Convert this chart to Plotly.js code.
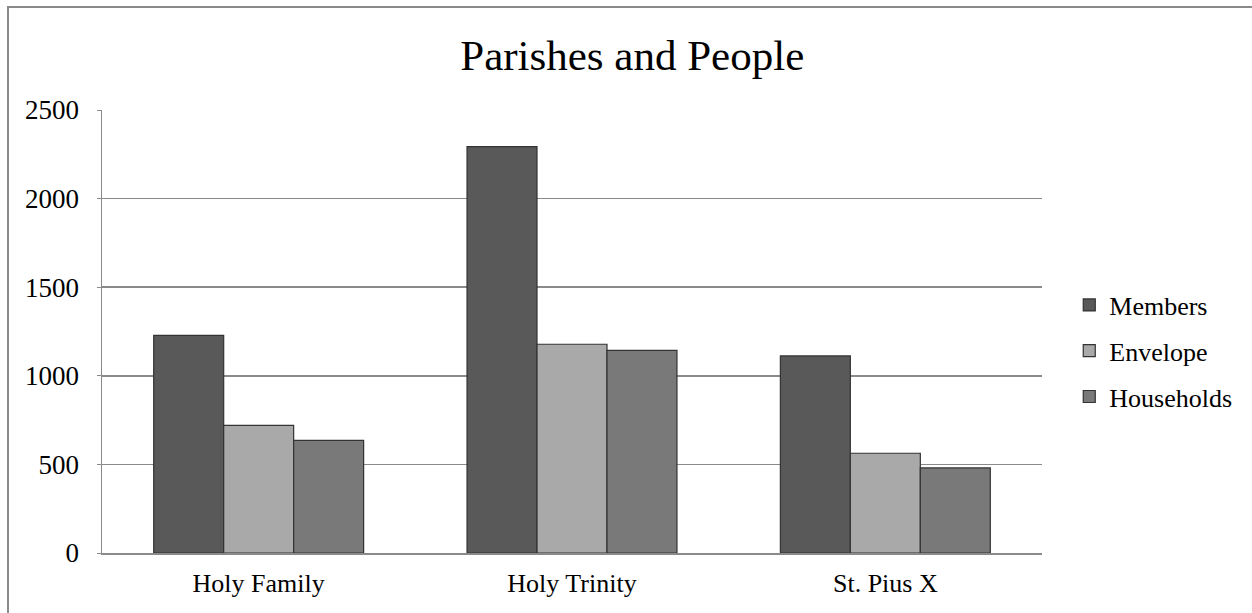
<!DOCTYPE html>
<html>
<head>
<meta charset="utf-8">
<script src="https://cdn.plot.ly/plotly-3.0.1.min.js"></script>
<style>
html,body{margin:0;padding:0;background:#fff;}
#chart{width:1252px;height:613px;}
</style>
</head>
<body>
<div id="chart"></div>
<script>
var categories = ["Holy Family", "Holy Trinity", "St. Pius X"];
var members = [1228, 2293, 1112];
var envelope = [720, 1178, 563];
var households = [636, 1144, 480];
var yTicks = [0, 500, 1000, 1500, 2000, 2500];

var font = "Liberation Serif, Times New Roman, serif";
function trace(name, vals, color, grp) {
  return {
    type: "bar", name: name, x: categories, y: vals,
    legendgroup: grp,
    marker: {color: color, line: {color: "#333333", width: 1.2}},
    hoverinfo: "x+y+name"
  };
}
var data = [
  trace("Members", members, "#595959", "a"),
  trace("Envelope", envelope, "#a9a9a9", "b"),
  trace("Households", households, "#797979", "c")
];
var layout = {
  width: 1252, height: 613,
  margin: {l: 102, r: 210, t: 110, b: 60},
  paper_bgcolor: "#ffffff", plot_bgcolor: "#ffffff",
  font: {family: font, color: "#000", size: 26},
  title: {text: "Parishes and People", font: {family: font, size: 43, color: "#000"},
          x: 0.505, xref: "container", xanchor: "center", y: 0.91, yref: "container", yanchor: "middle"},
  barmode: "group", bargap: 0.33, bargroupgap: 0,
  xaxis: {type: "category", showgrid: false, showline: true, linecolor: "#8a8a8a", linewidth: 1.5,
          tickfont: {family: font, size: 26}, ticks: "", zeroline: false, ticklabelstandoff: 6},
  yaxis: {range: [0, 2500], tickvals: yTicks, ticktext: yTicks.map(String),
          showgrid: true, gridcolor: "#8a8a8a", gridwidth: 1.5,
          showline: true, linecolor: "#8a8a8a", linewidth: 1.5,
          ticks: "outside", ticklen: 4, tickcolor: "#8a8a8a", ticklabelstandoff: 12,
          tickfont: {family: font, size: 27}, zeroline: false},
  legend: {x: 1.029, xanchor: "left", y: 0.456, yanchor: "middle", font: {family: font, size: 26},
           tracegroupgap: 9, itemwidth: 30, traceorder: "grouped"},
  shapes: [{type: "rect", xref: "paper", yref: "paper",
            x0: (8 - 102) / 940, x1: 1.4, y0: -0.3, y1: (553 - 7) / 443,
            line: {color: "#8a8a8a", width: 2}, fillcolor: "rgba(0,0,0,0)", layer: "below"}]
};
Plotly.newPlot("chart", data, layout, {displayModeBar: false, staticPlot: true});
</script>
</body>
</html>
